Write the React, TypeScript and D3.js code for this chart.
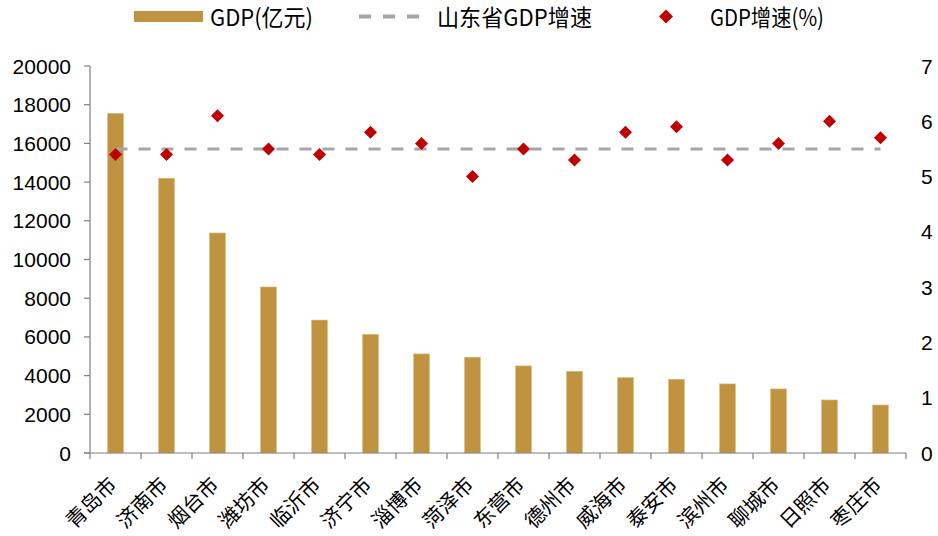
import React from "react";
import * as d3 from "d3";

const cities = ["青岛市","济南市","烟台市","潍坊市","临沂市","济宁市","淄博市","菏泽市","东营市","德州市","威海市","泰安市","滨州市","聊城市","日照市","枣庄市"];
const gdp = [17550, 14200, 11370, 8580, 6870, 6130, 5120, 4950, 4500, 4220, 3890, 3810, 3570, 3310, 2740, 2480];
const growth = [5.4, 5.4, 6.1, 5.5, 5.4, 5.8, 5.6, 5.0, 5.5, 5.3, 5.8, 5.9, 5.3, 5.6, 6.0, 5.7];
const provinceGrowth = 5.5;
const leftTicks = [0, 2000, 4000, 6000, 8000, 10000, 12000, 14000, 16000, 18000, 20000];
const rightTicks = [0, 1, 2, 3, 4, 5, 6, 7];
const legendLabels = ["GDP(亿元)", "山东省GDP增速", "GDP增速(%)"];

const W = 938, H = 536;
const M = { left: 90, right: 906, top: 66, bottom: 453 };

export default function App() {
  const x = d3.scaleBand<string>().domain(cities).range([M.left, M.right]).paddingInner(0.69).paddingOuter(0.345);
  const xc = (c: string) => (x(c) as number) + x.bandwidth() / 2;
  const step = (M.right - M.left) / cities.length;
  const yL = d3.scaleLinear().domain([0, 20000]).range([M.bottom, M.top]);
  const yR = d3.scaleLinear().domain([0, 7]).range([M.bottom, M.top]);
  const numFont = "'Liberation Sans', Arial, sans-serif";
  const cjk = "'Noto Sans CJK SC', sans-serif";
  const barColor = "#BF9340";
  const red = "#C00000";
  const diamond = (cx: number, cy: number, r: number) => `M${cx},${cy - r}L${cx + r},${cy}L${cx},${cy + r}L${cx - r},${cy}Z`;
  const lineX1 = xc(cities[0]);
  const lineX2 = xc(cities[cities.length - 1]);

  return (
    <div style={{ position: "absolute", left: 0, top: 0 }}>
      <svg width={W} height={H} style={{ display: "block", background: "#fff" }}>
        {/* Legend */}
        <g fontFamily={cjk} fontSize={23} fill="#000">
          <rect x={134} y={11} width={69} height={11} fill={barColor} />
          <text x={210} y={26} textLength={103} lengthAdjust="spacingAndGlyphs">{legendLabels[0]}</text>
          <line x1={359} x2={419} y1={16.5} y2={16.5} stroke="#A6A6A6" strokeWidth={4} strokeDasharray="12,12" />
          <text x={437} y={26} textLength={155} lengthAdjust="spacingAndGlyphs">{legendLabels[1]}</text>
          <path d={diamond(666, 16.5, 7)} fill={red} />
          <text x={710} y={26} textLength={114} lengthAdjust="spacingAndGlyphs">{legendLabels[2]}</text>
        </g>

        {/* Bars */}
        {cities.map((c, i) => (
          <rect key={c} x={x(c)} y={yL(gdp[i])} width={x.bandwidth()} height={M.bottom - yL(gdp[i])} fill={barColor} stroke="#D9B97A" strokeWidth={0.6} />
        ))}

        {/* Axes */}
        <g stroke="#808080" strokeWidth={1.2}>
          <line x1={M.left} x2={M.left} y1={M.top} y2={M.bottom} />
          {leftTicks.map(t => (
            <line key={t} x1={M.left - 6} x2={M.left} y1={yL(t)} y2={yL(t)} />
          ))}
          <line x1={M.left - 6} x2={M.right} y1={M.bottom} y2={M.bottom} />
          {d3.range(cities.length + 1).map(i => (
            <line key={i} x1={M.left + i * step} x2={M.left + i * step} y1={M.bottom} y2={M.bottom + 6} />
          ))}
        </g>

        <g fontFamily={numFont} fontSize={21} fill="#000" textAnchor="end">
          {leftTicks.map(t => (
            <text key={t} x={71} y={yL(t) + 7.5}>{t}</text>
          ))}
        </g>
        <g fontFamily={numFont} fontSize={21} fill="#000" textAnchor="start">
          {rightTicks.map(t => (
            <text key={t} x={921} y={yR(t) + 7.5}>{t}</text>
          ))}
        </g>

        {/* Province growth line */}
        <line x1={lineX1} x2={lineX2} y1={yR(provinceGrowth)} y2={yR(provinceGrowth)} stroke="#A6A6A6" strokeWidth={3} strokeDasharray="12,11" />

        {/* Growth points */}
        {cities.map((c, i) => (
          <path key={c} d={diamond(xc(c), yR(growth[i]), 6.5)} fill={red} />
        ))}

        {/* X labels */}
        <g fontFamily={cjk} fontSize={20.5} fill="#000" textAnchor="end">
          {cities.map(c => (
            <text key={c} transform={`translate(${xc(c) + 2.5},${M.bottom + 33}) rotate(-45)`}>{c}</text>
          ))}
        </g>
      </svg>
    </div>
  );
}
